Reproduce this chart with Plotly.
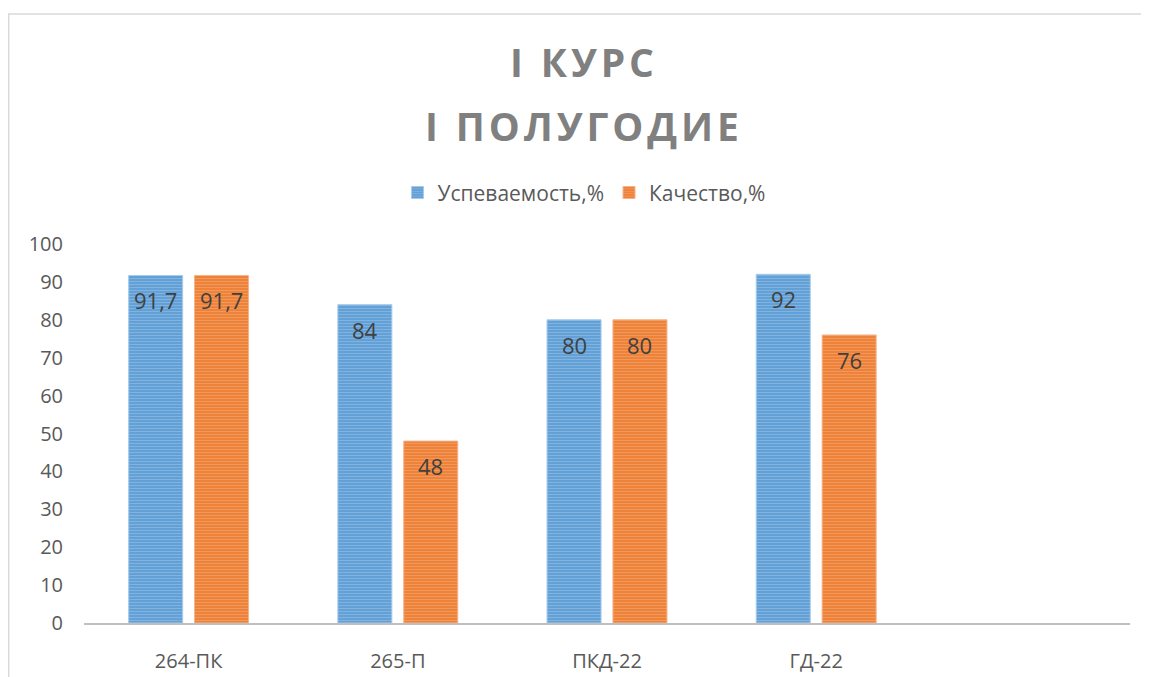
import plotly.graph_objects as go

categories = ["264-ПК", "265-П", "ПКД-22", "ГД-22", " "]
uspev = [91.7, 84, 80, 92]
kach = [91.7, 48, 80, 76]
series_names = ["Успеваемость,%", "Качество,%"]
title_lines = ["I КУРС", "I ПОЛУГОДИЕ"]

FONT = "Open Sans"
TXT = "#595959"
BARGAP = 0.37
BARGROUPGAP = 0.18

def fmt(v):
    return (f"{v:g}").replace(".", ",")

fig = go.Figure()
styles = [
    dict(bg="#5b9bd5", fg="#a9cbea"),
    dict(bg="#ed7d31", fg="#f6b48a"),
]
for name, vals, st in zip(series_names, [uspev, kach], styles):
    fig.add_trace(go.Bar(
        name=name,
        x=categories[:len(vals)],
        y=vals,
        marker=dict(
            color=st["bg"],
            line=dict(color=st["fg"], width=1),
            pattern=dict(shape="-", fgcolor=st["fg"], bgcolor=st["bg"],
                         size=3, solidity=0.45, fillmode="overlay"),
        ),
        hoverinfo="skip",
    ))

# data labels (inside end), derived from bar values and group layout
n_series = 2
slot = (1 - BARGAP) / n_series
for i, vals in enumerate([uspev, kach]):
    off = -(1 - BARGAP) / 2 + slot * (i + 0.5)
    for j, v in enumerate(vals):
        fig.add_annotation(
            x=j + off, y=v, xref="x", yref="y",
            text=fmt(v), showarrow=False, yshift=-25,
            font=dict(family=FONT, size=22, color="#404040"),
        )

# title lines
for k, (t, yy) in enumerate(zip(title_lines, [1.481, 1.312])):
    fig.add_annotation(
        x=0.476, y=yy, xref="paper", yref="paper", yanchor="middle",
        text="\u200a".join(t), showarrow=False,
        font=dict(family=FONT, size=39, color="#808080", weight="bold"),
    )

# outer chart border
fig.add_shape(type="rect", xref="paper", yref="paper",
              x0=-0.072, y0=-0.5, x1=1.2, y1=1.607,
              line=dict(color="#d9d9d9", width=1.5), layer="below")

# page body has an 8px default margin: figure is sized to fit the window
fig.update_layout(
    width=1141, height=669,
    margin=dict(l=76, r=19, t=236, b=54, autoexpand=False),
    paper_bgcolor="white", plot_bgcolor="white",
    barmode="group", bargap=BARGAP, bargroupgap=BARGROUPGAP,
    font=dict(family=FONT, size=20, color=TXT),
    showlegend=True,
    legend=dict(orientation="h", x=0.478, xanchor="center", y=1.135, yanchor="middle",
                font=dict(family=FONT, size=21, color=TXT), itemwidth=30,
                traceorder="normal"),
    xaxis=dict(type="category", categoryorder="array", categoryarray=categories,
               range=[-0.5, 4.5], showline=True, linecolor="#bfbfbf", linewidth=2,
               showgrid=False, ticks="", ticklabelstandoff=19, zeroline=False,
               automargin=False,
               tickfont=dict(family=FONT, size=20, color=TXT)),
    yaxis=dict(range=[0, 100], dtick=10, tick0=0, showgrid=False, showline=False,
               zeroline=False, ticks="", ticklabelstandoff=20, automargin=False,
               tickfont=dict(family=FONT, size=20, color=TXT)),
)

fig.write_html("out.html")
